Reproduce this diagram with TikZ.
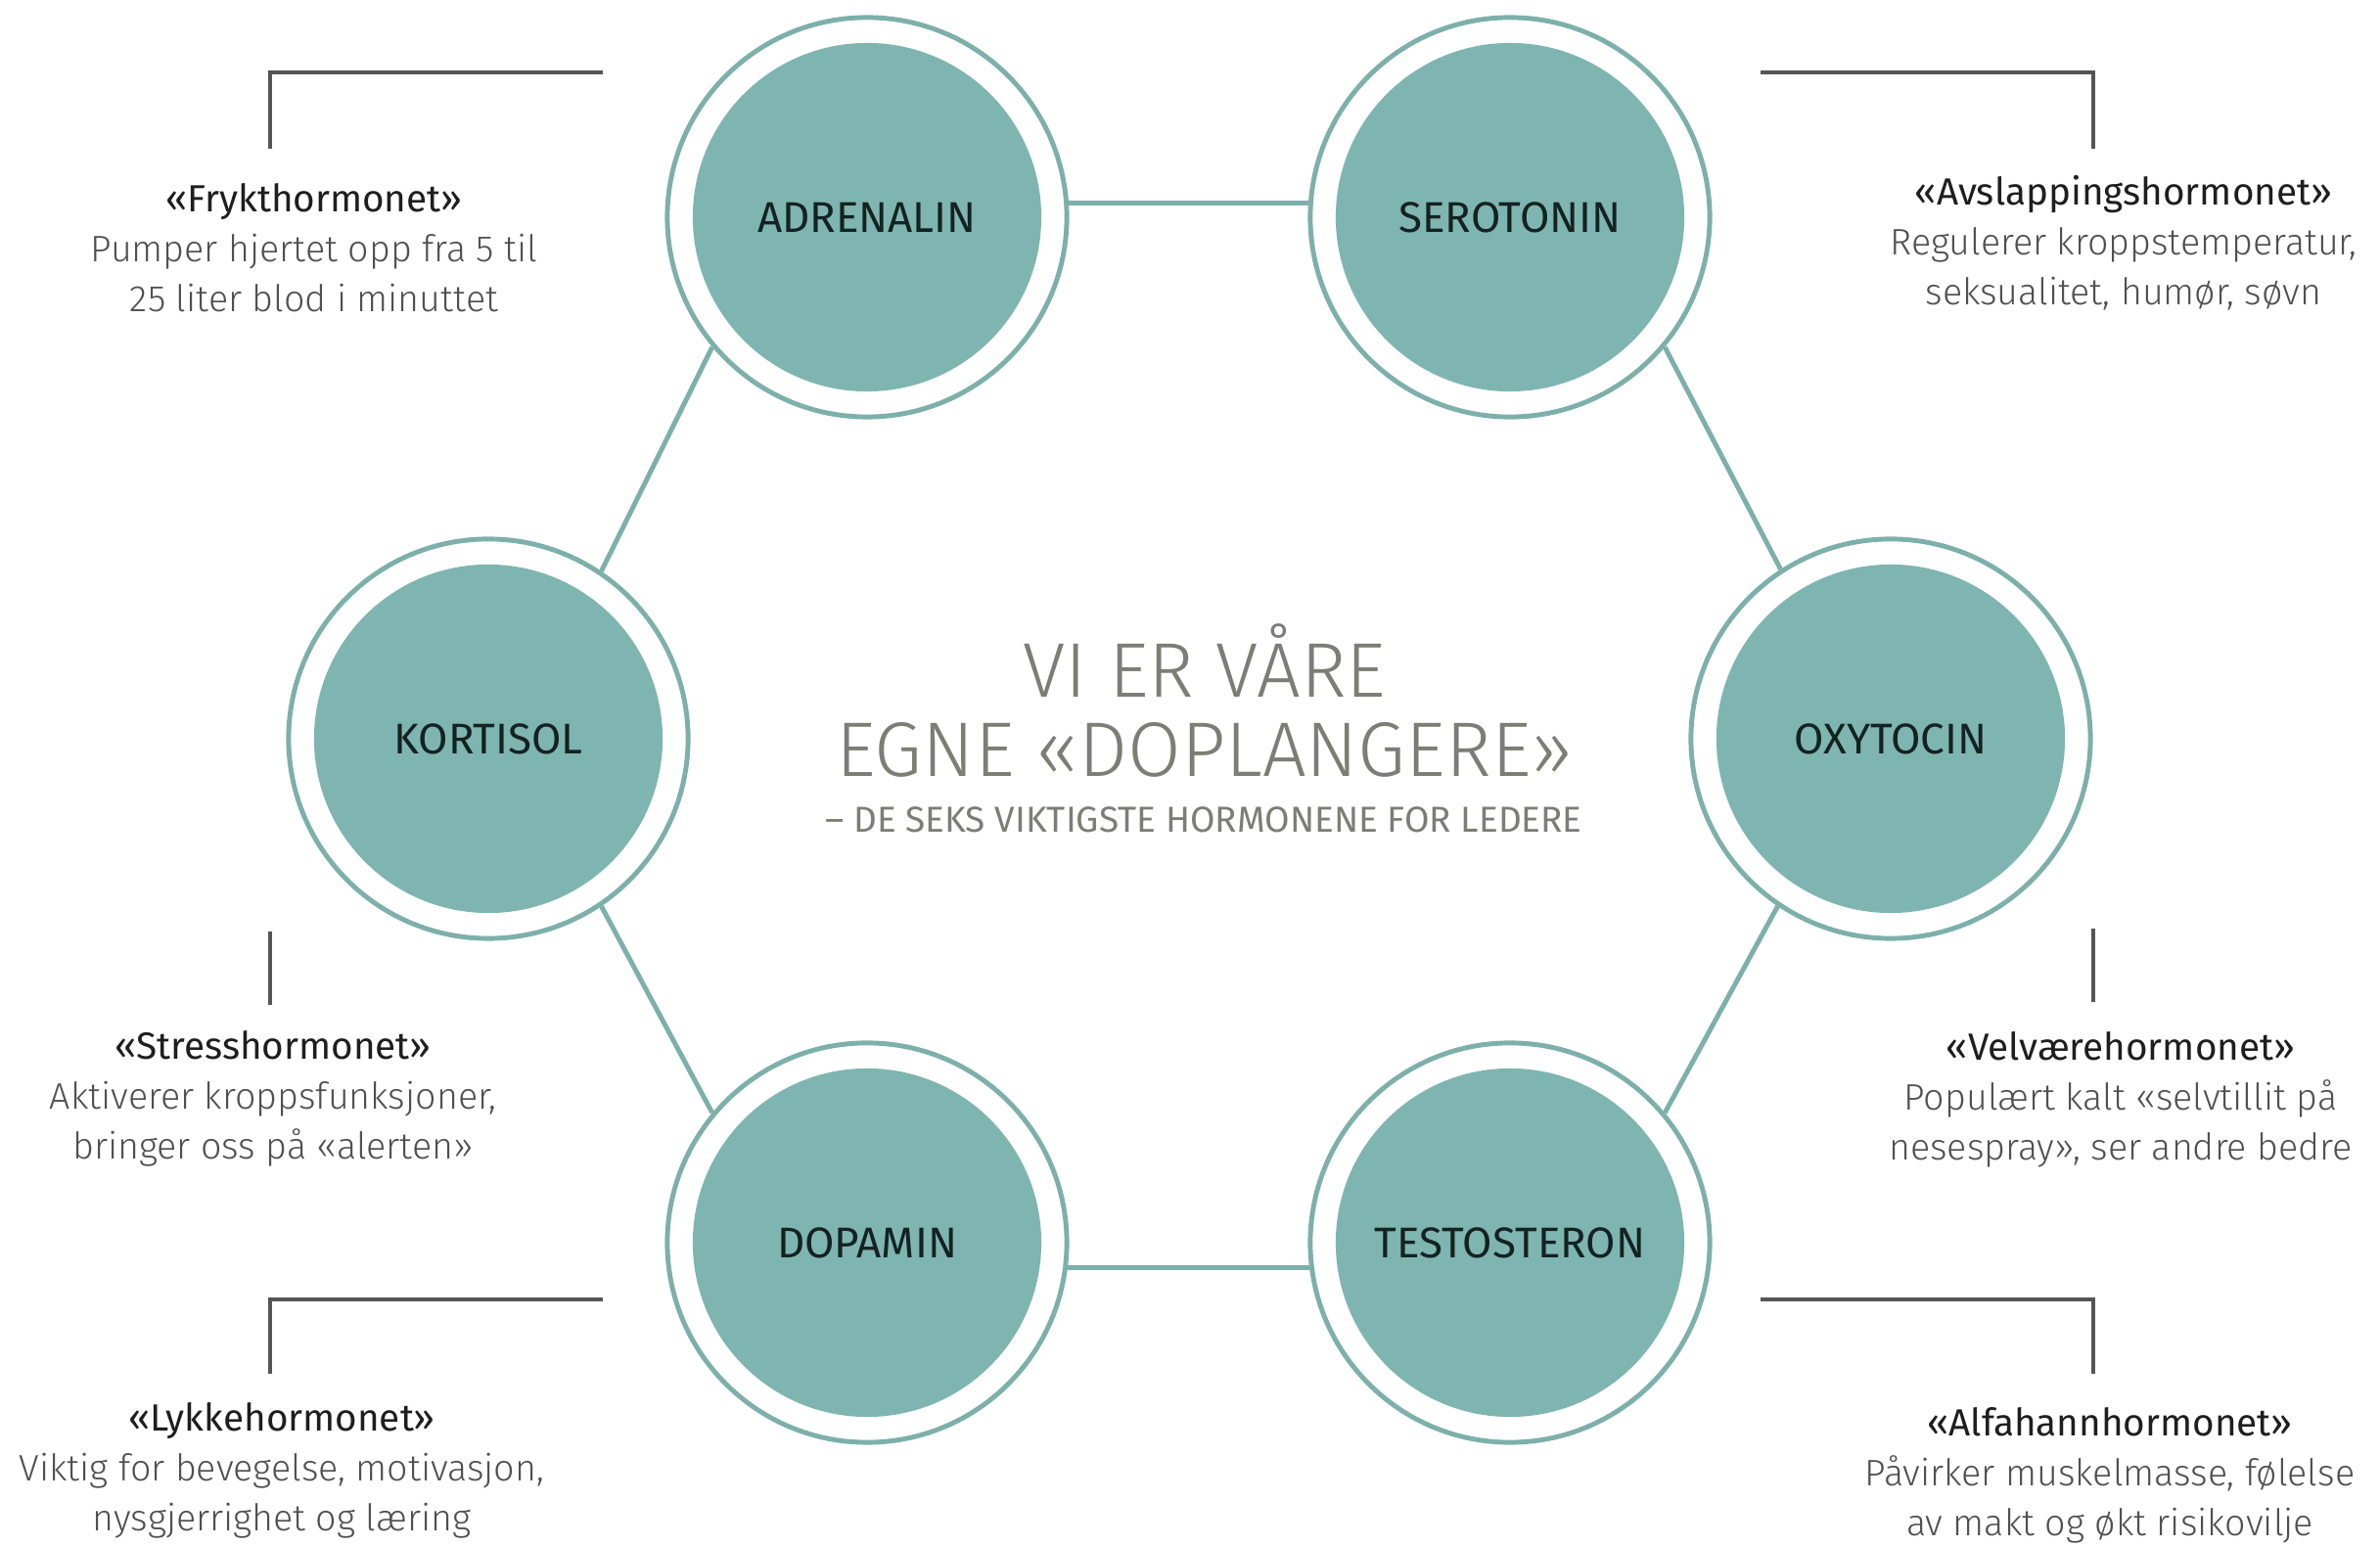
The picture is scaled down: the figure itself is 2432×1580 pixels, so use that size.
\documentclass[tikz,border=0pt]{standalone}
\usepackage{fontspec}
\setmainfont{Fira Sans}
\newfontfamily\lightfont{Fira Sans Light}
\definecolor{coreTeal}{HTML}{7FB5B0}
\definecolor{ringTeal}{HTML}{7DB0AA}
\definecolor{bracketGray}{HTML}{555555}
\definecolor{titleGray}{HTML}{7C7D75}
\definecolor{textGray}{HTML}{505050}
\definecolor{headDark}{HTML}{1E1E1E}
\definecolor{labelDark}{HTML}{142222}
\newcommand{\hormoneHead}[1]{{\color{headDark}\normalfont\fontsize{11}{14.5}\selectfont #1}}

\begin{document}
\begin{tikzpicture}[x = 0.01cm, y = -0.01cm]
\tikzstyle{hormoneStyle} = [shape = circle, minimum size = 4.08cm, inner sep = 0pt, draw = ringTeal, line width = 1.4pt, fill = white,
  path picture = {\fill[coreTeal] (path picture bounding box.center) circle (1.78cm);},
  font = \fontsize{12.5}{14}\selectfont, text = labelDark]
\tikzstyle{linkStyle} = [draw = ringTeal, line width = 1.4pt]
\tikzstyle{bracketStyle} = [draw = bracketGray, line width = 1.1pt]
\tikzstyle{infoStyle} = [align = center, inner sep = 0pt, text = textGray, font = \lightfont\fontsize{10.7}{14.5}\selectfont]
\useasboundingbox (0,0) rectangle (2432,1580);
\node[hormoneStyle] (adrenalin) at (886,222) {ADRENALIN};
\node[hormoneStyle] (serotonin) at (1543,222) {SEROTONIN};
\node[hormoneStyle] (kortisol) at (499,755) {KORTISOL};
\node[hormoneStyle] (oxytocin) at (1932,755) {OXYTOCIN};
\node[hormoneStyle] (dopamin) at (886,1270) {DOPAMIN};
\node[hormoneStyle] (testosteron) at (1543,1270) {TESTOSTERON};
\draw[linkStyle] (adrenalin.4) -- (serotonin.176);
\draw[linkStyle] (serotonin.-40) -- (oxytocin.123.5);
\draw[linkStyle] (oxytocin.236.5) -- (testosteron.40);
\draw[linkStyle] (testosteron.187.5) -- (dopamin.-7.5);
\draw[linkStyle] (dopamin.140) -- (kortisol.-56.5);
\draw[linkStyle] (kortisol.56.5) -- (adrenalin.220);
\node[align = center, text = titleGray, font = \lightfont\fontsize{22.5}{23.3}\selectfont] (title) at (1231,716) {VI ER VÅRE\\EGNE «DOPLANGERE»};
\node[text = titleGray, font = \fontsize{10.5}{12}\selectfont] (subtitle) at (1230,838) {– DE SEKS VIKTIGSTE HORMONENE FOR LEDERE};
\node[infoStyle] (adrenalinInfo) at (321,253) {\hormoneHead{«Frykthormonet»}\\Pumper hjertet opp fra 5 til\\25 liter blod i minuttet};
\node[infoStyle] (serotoninInfo) at (2170,248) {\hormoneHead{«Avslappingshormonet»}\\Regulerer kroppstemperatur,\\seksualitet, humør, søvn};
\node[infoStyle] (kortisolInfo) at (279,1123) {\hormoneHead{«Stresshormonet»}\\Aktiverer kroppsfunksjoner,\\bringer oss på «alerten»};
\node[infoStyle] (oxytocinInfo) at (2167,1124) {\hormoneHead{«Velværehormonet»}\\Populært kalt «selvtillit på\\nesespray», ser andre bedre};
\node[infoStyle] (dopaminInfo) at (288,1503) {\hormoneHead{«Lykkehormonet»}\\Viktig for bevegelse, motivasjon,\\nysgjerrighet og læring};
\node[infoStyle] (testosteronInfo) at (2156,1508) {\hormoneHead{«Alfahannhormonet»}\\Påvirker muskelmasse, følelse\\av makt og økt risikovilje};
\draw[bracketStyle] (616,74) -- (276,74) -- (276,152);
\draw[bracketStyle] (1799,74) -- (2139,74) -- (2139,152);
\draw[bracketStyle] (276,952) -- (276,1027);
\draw[bracketStyle] (2139,949) -- (2139,1024);
\draw[bracketStyle] (616,1328) -- (276,1328) -- (276,1404);
\draw[bracketStyle] (1799,1328) -- (2139,1328) -- (2139,1404);
\end{tikzpicture}
\end{document}
